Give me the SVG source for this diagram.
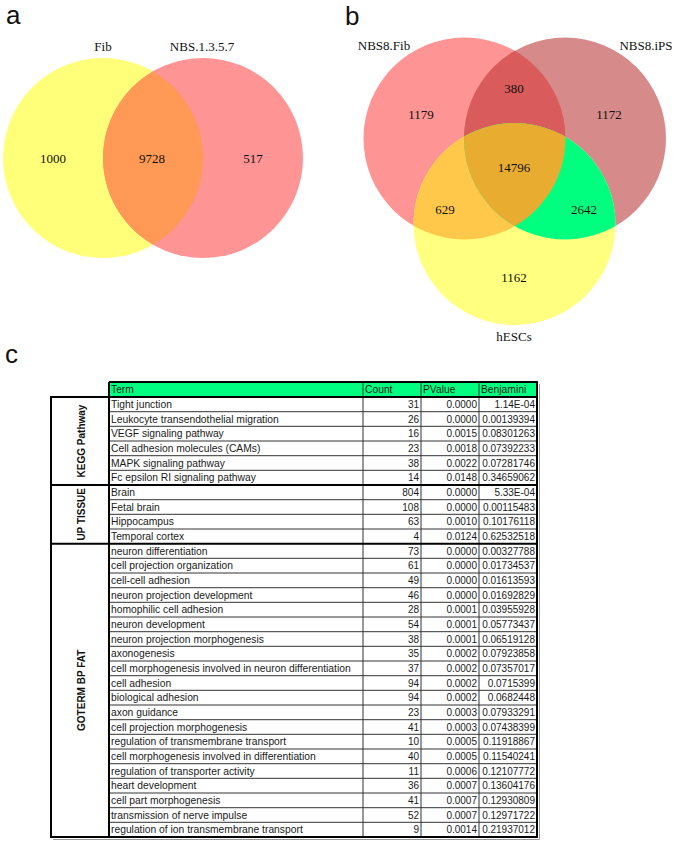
<svg xmlns="http://www.w3.org/2000/svg" width="675" height="841" viewBox="0 0 675 841">
<style>
.pl{font-family:"Liberation Sans",Arial,sans-serif;font-size:26px;fill:#111}
.vn{font-family:"Liberation Serif","Times New Roman",serif;font-size:13px;fill:#111;text-anchor:middle}
.t{font-family:"Liberation Sans",Arial,sans-serif;font-size:10.3px;fill:#1a1a1a}
.n{font-family:"Liberation Sans",Arial,sans-serif;font-size:10px;fill:#1a1a1a;text-anchor:end}
.cat{font-family:"Liberation Sans",Arial,sans-serif;font-size:10px;font-weight:bold;fill:#111;text-anchor:middle}
.thin{stroke:#333;stroke-width:1;fill:none}
.thick{stroke:#000;stroke-width:2;fill:none}
</style>
<defs>
<clipPath id="cA"><circle cx="464.5" cy="138.5" r="101"/></clipPath>
<clipPath id="cB"><circle cx="565" cy="138.5" r="101"/></clipPath>
</defs>
<rect width="675" height="841" fill="#fff"/>

<!-- Panel a -->
<g id="panel-a">
<text class="pl" x="6" y="24">a</text>
<circle cx="103" cy="158" r="100" fill="#FFFF7A"/>
<circle cx="203" cy="158" r="100" fill="#FF9494"/>
<path d="M153,71.4 A100,100 0 0,1 153,244.6 A100,100 0 0,1 153,71.4 Z" fill="#FF9955"/>
<text class="vn" x="103" y="51">Fib</text>
<text class="vn" x="202" y="51">NBS.1.3.5.7</text>
<text class="vn" x="53" y="163">1000</text>
<text class="vn" x="152" y="163">9728</text>
<text class="vn" x="253" y="163">517</text>
</g>

<!-- Panel b -->
<g id="panel-b">
<text class="pl" x="345" y="25">b</text>
<circle cx="464.5" cy="138.5" r="101" fill="#FF9494"/>
<circle cx="565" cy="138.5" r="101" fill="#D68A8A"/>
<circle cx="514.5" cy="224" r="101" fill="#FFFF80"/>
<circle cx="565" cy="138.5" r="101" fill="#D95B5B" clip-path="url(#cA)"/>
<circle cx="514.5" cy="224" r="101" fill="#FFC84A" clip-path="url(#cA)"/>
<circle cx="514.5" cy="224" r="101" fill="#00FF7F" clip-path="url(#cB)"/>
<g clip-path="url(#cA)"><circle cx="514.5" cy="224" r="101" fill="#E8AC30" clip-path="url(#cB)"/></g>
<text class="vn" x="384" y="50">NBS8.Fib</text>
<text class="vn" x="646" y="50">NBS8.iPS</text>
<text class="vn" x="514" y="341">hESCs</text>
<text class="vn" x="421" y="119">1179</text>
<text class="vn" x="514" y="93">380</text>
<text class="vn" x="609" y="119">1172</text>
<text class="vn" x="514" y="172">14796</text>
<text class="vn" x="445" y="214">629</text>
<text class="vn" x="584" y="214">2642</text>
<text class="vn" x="514" y="282">1162</text>
</g>

<!-- Panel c -->
<g id="panel-c">
<text class="pl" x="5" y="363">c</text>
<rect x="109" y="382" width="428" height="15" fill="#00FF80"/>
<g id="grid">
<path class="thin" d="M109,411.7H537M109,426.3H537M109,441H537M109,455.7H537M109,470.3H537M109,499.7H537M109,514.3H537M109,529H537M109,558.3H537M109,573H537M109,587.7H537M109,602.3H537M109,617H537M109,631.7H537M109,646.3H537M109,661H537M109,675.7H537M109,690.3H537M109,705H537M109,719.7H537M109,734.3H537M109,749H537M109,763.7H537M109,778.3H537M109,793H537M109,807.7H537M109,822.3H537"/>
<path class="thin" d="M363,382V837M421,382V837M479,382V837"/>
<path class="thick" d="M109,382H537V837H51V397H109M109,382V837M109,397H537M51,485H537M51,543.7H537"/>
<path d="M539.5,384V839.5H53" stroke="#999" stroke-width="1" fill="none"/>
</g>
<g id="header">
<text class="t" x="111" y="393">Term</text>
<text class="t" x="365" y="393">Count</text>
<text class="t" x="423" y="393">PValue</text>
<text class="t" x="481" y="393">Benjamini</text>
</g>
<g id="categories">
<text class="cat" transform="translate(84.5,441) rotate(-90)">KEGG Pathway</text>
<text class="cat" transform="translate(84.5,514.3) rotate(-90)">UP TISSUE</text>
<text class="cat" transform="translate(84.5,690.3) rotate(-90)">GOTERM BP FAT</text>
</g>
<g id="terms">
<text class="t" x="111" y="407.8">Tight junction</text>
<text class="t" x="111" y="422.5">Leukocyte transendothelial migration</text>
<text class="t" x="111" y="437.1">VEGF signaling pathway</text>
<text class="t" x="111" y="451.8">Cell adhesion molecules (CAMs)</text>
<text class="t" x="111" y="466.5">MAPK signaling pathway</text>
<text class="t" x="111" y="481.1">Fc epsilon RI signaling pathway</text>
<text class="t" x="111" y="495.8">Brain</text>
<text class="t" x="111" y="510.5">Fetal brain</text>
<text class="t" x="111" y="525.1">Hippocampus</text>
<text class="t" x="111" y="539.8">Temporal cortex</text>
<text class="t" x="111" y="554.5">neuron differentiation</text>
<text class="t" x="111" y="569.1">cell projection organization</text>
<text class="t" x="111" y="583.8">cell-cell adhesion</text>
<text class="t" x="111" y="598.5">neuron projection development</text>
<text class="t" x="111" y="613.1">homophilic cell adhesion</text>
<text class="t" x="111" y="627.8">neuron development</text>
<text class="t" x="111" y="642.5">neuron projection morphogenesis</text>
<text class="t" x="111" y="657.1">axonogenesis</text>
<text class="t" x="111" y="671.8">cell morphogenesis involved in neuron differentiation</text>
<text class="t" x="111" y="686.5">cell adhesion</text>
<text class="t" x="111" y="701.1">biological adhesion</text>
<text class="t" x="111" y="715.8">axon guidance</text>
<text class="t" x="111" y="730.5">cell projection morphogenesis</text>
<text class="t" x="111" y="745.1">regulation of transmembrane transport</text>
<text class="t" x="111" y="759.8">cell morphogenesis involved in differentiation</text>
<text class="t" x="111" y="774.5">regulation of transporter activity</text>
<text class="t" x="111" y="789.1">heart development</text>
<text class="t" x="111" y="803.8">cell part morphogenesis</text>
<text class="t" x="111" y="818.5">transmission of nerve impulse</text>
<text class="t" x="111" y="833.1">regulation of ion transmembrane transport</text>
</g>
<g id="counts">
<text class="n" x="419" y="407.8">31</text>
<text class="n" x="419" y="422.5">26</text>
<text class="n" x="419" y="437.1">16</text>
<text class="n" x="419" y="451.8">23</text>
<text class="n" x="419" y="466.5">38</text>
<text class="n" x="419" y="481.1">14</text>
<text class="n" x="419" y="495.8">804</text>
<text class="n" x="419" y="510.5">108</text>
<text class="n" x="419" y="525.1">63</text>
<text class="n" x="419" y="539.8">4</text>
<text class="n" x="419" y="554.5">73</text>
<text class="n" x="419" y="569.1">61</text>
<text class="n" x="419" y="583.8">49</text>
<text class="n" x="419" y="598.5">46</text>
<text class="n" x="419" y="613.1">28</text>
<text class="n" x="419" y="627.8">54</text>
<text class="n" x="419" y="642.5">38</text>
<text class="n" x="419" y="657.1">35</text>
<text class="n" x="419" y="671.8">37</text>
<text class="n" x="419" y="686.5">94</text>
<text class="n" x="419" y="701.1">94</text>
<text class="n" x="419" y="715.8">23</text>
<text class="n" x="419" y="730.5">41</text>
<text class="n" x="419" y="745.1">10</text>
<text class="n" x="419" y="759.8">40</text>
<text class="n" x="419" y="774.5">11</text>
<text class="n" x="419" y="789.1">36</text>
<text class="n" x="419" y="803.8">41</text>
<text class="n" x="419" y="818.5">52</text>
<text class="n" x="419" y="833.1">9</text>
</g>
<g id="pvalues">
<text class="n" x="477" y="407.8">0.0000</text>
<text class="n" x="477" y="422.5">0.0000</text>
<text class="n" x="477" y="437.1">0.0015</text>
<text class="n" x="477" y="451.8">0.0018</text>
<text class="n" x="477" y="466.5">0.0022</text>
<text class="n" x="477" y="481.1">0.0148</text>
<text class="n" x="477" y="495.8">0.0000</text>
<text class="n" x="477" y="510.5">0.0000</text>
<text class="n" x="477" y="525.1">0.0010</text>
<text class="n" x="477" y="539.8">0.0124</text>
<text class="n" x="477" y="554.5">0.0000</text>
<text class="n" x="477" y="569.1">0.0000</text>
<text class="n" x="477" y="583.8">0.0000</text>
<text class="n" x="477" y="598.5">0.0000</text>
<text class="n" x="477" y="613.1">0.0001</text>
<text class="n" x="477" y="627.8">0.0001</text>
<text class="n" x="477" y="642.5">0.0001</text>
<text class="n" x="477" y="657.1">0.0002</text>
<text class="n" x="477" y="671.8">0.0002</text>
<text class="n" x="477" y="686.5">0.0002</text>
<text class="n" x="477" y="701.1">0.0002</text>
<text class="n" x="477" y="715.8">0.0003</text>
<text class="n" x="477" y="730.5">0.0003</text>
<text class="n" x="477" y="745.1">0.0005</text>
<text class="n" x="477" y="759.8">0.0005</text>
<text class="n" x="477" y="774.5">0.0006</text>
<text class="n" x="477" y="789.1">0.0007</text>
<text class="n" x="477" y="803.8">0.0007</text>
<text class="n" x="477" y="818.5">0.0007</text>
<text class="n" x="477" y="833.1">0.0014</text>
</g>
<g id="benjamini">
<text class="n" x="535" y="407.8">1.14E-04</text>
<text class="n" x="535" y="422.5">0.00139394</text>
<text class="n" x="535" y="437.1">0.08301263</text>
<text class="n" x="535" y="451.8">0.07392233</text>
<text class="n" x="535" y="466.5">0.07281746</text>
<text class="n" x="535" y="481.1">0.34659062</text>
<text class="n" x="535" y="495.8">5.33E-04</text>
<text class="n" x="535" y="510.5">0.00115483</text>
<text class="n" x="535" y="525.1">0.10176118</text>
<text class="n" x="535" y="539.8">0.62532518</text>
<text class="n" x="535" y="554.5">0.00327788</text>
<text class="n" x="535" y="569.1">0.01734537</text>
<text class="n" x="535" y="583.8">0.01613593</text>
<text class="n" x="535" y="598.5">0.01692829</text>
<text class="n" x="535" y="613.1">0.03955928</text>
<text class="n" x="535" y="627.8">0.05773437</text>
<text class="n" x="535" y="642.5">0.06519128</text>
<text class="n" x="535" y="657.1">0.07923858</text>
<text class="n" x="535" y="671.8">0.07357017</text>
<text class="n" x="535" y="686.5">0.0715399</text>
<text class="n" x="535" y="701.1">0.0682448</text>
<text class="n" x="535" y="715.8">0.07933291</text>
<text class="n" x="535" y="730.5">0.07438399</text>
<text class="n" x="535" y="745.1">0.11918867</text>
<text class="n" x="535" y="759.8">0.11540241</text>
<text class="n" x="535" y="774.5">0.12107772</text>
<text class="n" x="535" y="789.1">0.13604176</text>
<text class="n" x="535" y="803.8">0.12930809</text>
<text class="n" x="535" y="818.5">0.12971722</text>
<text class="n" x="535" y="833.1">0.21937012</text>
</g>
</g>
</svg>
